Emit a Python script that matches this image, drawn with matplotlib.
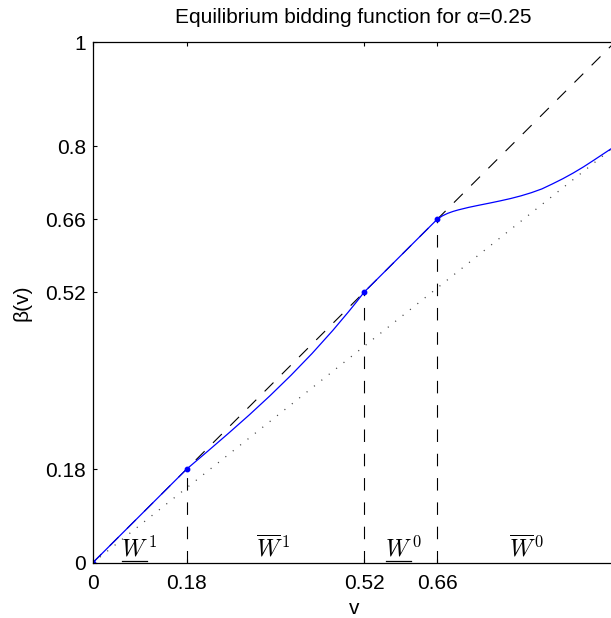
import matplotlib
matplotlib.use("Agg")
import matplotlib.pyplot as plt
import numpy as np

plt.rcParams['font.family'] = ['Liberation Sans', 'DejaVu Sans']
plt.rcParams['mathtext.fontset'] = 'cm'
plt.rcParams['lines.scale_dashes'] = False

# data
breaks = [0.18, 0.52, 0.66]
tick_vals_x = [0, 0.18, 0.52, 0.66, 1]
tick_vals_y = [0, 0.18, 0.52, 0.66, 0.8, 1]
tick_labels_x = ['0', '0.18', '0.52', '0.66', '1']
tick_labels_y = ['0', '0.18', '0.52', '0.66', '0.8', '1']

v_curve = [0, 0.18, 0.22, 0.26, 0.30, 0.34, 0.38, 0.42, 0.46, 0.49, 0.505, 0.52,
           0.66, 0.67, 0.68, 0.69, 0.70, 0.72, 0.74, 0.76, 0.78, 0.80, 0.82, 0.84,
           0.86, 0.88, 0.90, 0.92, 0.94, 0.96, 0.98, 1.0]
b_curve = [0, 0.18, 0.2141, 0.2487, 0.2842, 0.3213, 0.3604, 0.4019, 0.4465, 0.4822,
           0.5008, 0.52,
           0.660, 0.6665, 0.6712, 0.6748, 0.6777, 0.6826, 0.6868, 0.6908, 0.6950,
           0.6995, 0.7047, 0.7108, 0.7180, 0.7275, 0.7375, 0.7485, 0.7605, 0.7735,
           0.7868, 0.800]
dot_v = [0, 0.18, 0.52, 0.66]
dot_b = [0, 0.18, 0.52, 0.66]
dotted_slope = 0.8  # lower bound line beta = 0.8 v

region_x = [0.09, 0.347, 0.595, 0.83]
region_txt = [r'$W^{\,1}$', r'$\overline{W}^{\,1}$', r'$W^{\,0}$', r'$\overline{W}^{\,0}$']
region_under = [True, False, True, False]

W, H = 611, 618
fig = plt.figure(figsize=(W / 100, H / 100), dpi=100)
ax = fig.add_axes([92.5 / W, 55 / H, 522.5 / W, 521 / H])

ax.plot([0, 1], [0, 1], color='black', lw=0.8, dashes=(9, 8.5))
vv = np.array([0, 1.0])
ax.plot(vv, dotted_slope * vv, color='#444444', lw=0.9, dashes=(0.8, 6))
for b in breaks:
    ax.plot([b, b], [0, b], color='black', lw=0.8, dashes=(9, 8.5))
ax.plot(v_curve, b_curve, color='blue', lw=0.9)
ax.plot(dot_v, dot_b, 'o', color='blue', ms=3.2, mec='blue')

ax.set_xlim(0, 1)
ax.set_ylim(0, 1)
ax.set_xticks(tick_vals_x)
ax.set_xticklabels(tick_labels_x)
ax.set_yticks(tick_vals_y)
ax.set_yticklabels(tick_labels_y)
ax.tick_params(direction='in', length=3, width=0.8, top=True, right=True,
               labelsize=15, colors='black')
ax.tick_params(axis='x', pad=8)
ax.tick_params(axis='y', pad=4.5)
for s in ax.spines.values():
    s.set_linewidth(0.9)

ax.set_title('Equilibrium bidding function for α=0.25', fontsize=15, pad=13.5)
ax.set_xlabel('v', fontsize=15, labelpad=4)
ax.set_ylabel('β(v)', fontsize=15, labelpad=10)

texts = []
for x, t, u in zip(region_x, region_txt, region_under):
    tt = ax.text(x, 0.027, t, fontsize=17, ha='center', va='center')
    texts.append((tt, u))

fig.canvas.draw()
r = fig.canvas.get_renderer()
inv = ax.transData.inverted()
for tt, u in texts:
    if not u:
        continue
    bb = tt.get_window_extent(r)
    x0 = bb.x0 + 1
    x1 = bb.x0 + bb.width * 0.70
    yb = bb.y0 + 1
    (dx0, dy), (dx1, _) = inv.transform([(x0, yb), (x1, yb)])
    ax.plot([dx0, dx1], [dy, dy], color='black', lw=0.9, clip_on=False)

fig.savefig('out.png', dpi=100)
